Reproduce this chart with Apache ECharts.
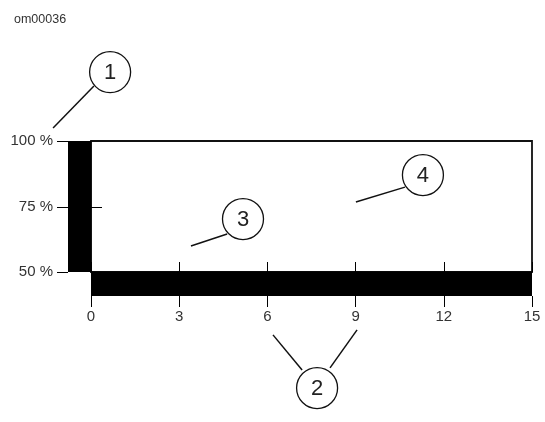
<!DOCTYPE html>
<html>
<head>
<meta charset="utf-8">
<script src="https://cdn.jsdelivr.net/npm/echarts@6/dist/echarts.min.js"></script>
<style>
    html, body { margin: 0; padding: 0; background: #fff; }
    #chart { width: 545px; height: 422px; }
</style>
</head>
<body>
<div id="chart"></div>
<script>
// axis ranges and ticks
var xMin = 0, xMax = 15, xStep = 3;
var yMin = 50, yMax = 100, yStep = 25;
var yTicks = [50, 75, 100];
var yInnerTicks = [75];

// callouts: number, circle centre, leader lines [from, to] (data units)
var calloutLabels = ['1', '2', '3', '4'];
var calloutCenters = [[0.65, 126.3], [7.69, 5.7], [5.17, 70.2], [11.29, 87.0]];
var calloutLeaders = [
    [[[0.10, 121.0], [-1.29, 105.0]]],
    [[[7.18, 12.6], [6.19, 26.0]], [[8.13, 13.4], [9.05, 27.9]]],
    [[[4.63, 64.5], [3.40, 59.9]]],
    [[[10.68, 82.4], [9.01, 76.7]]]
];

var labelStyle = { color: '#333', fontSize: 15, fontFamily: 'Liberation Sans, Arial, sans-serif' };
var barW = 23, barH = 24, tickLen = 11;

// 黑色边条、刻度
function renderFrame(params, api) {
    var p0 = api.coord([xMin, yMin]);
    var p1 = api.coord([xMax, yMax]);
    var children = [
        { type: 'rect', shape: { x: p0[0] - barW, y: p1[1], width: barW + 0.5, height: p0[1] - p1[1] }, style: { fill: '#000' } },
        { type: 'rect', shape: { x: p0[0], y: p0[1] - 0.5, width: p1[0] - p0[0], height: barH + 0.5 }, style: { fill: '#000' } }
    ];
    yTicks.forEach(function (v) {
        var p = api.coord([xMin, v]);
        var y = Math.round(p[1]) + 0.5;
        children.push({ type: 'line', shape: { x1: p[0] - barW - tickLen, y1: y, x2: p[0] - barW, y2: y }, style: { stroke: '#000', lineWidth: 1 } });
    });
    yInnerTicks.forEach(function (v) {
        var p = api.coord([xMin, v]);
        var y = Math.round(p[1]) + 0.5;
        children.push({ type: 'line', shape: { x1: p[0], y1: y, x2: p[0] + tickLen, y2: y }, style: { stroke: '#000', lineWidth: 1 } });
    });
    return { type: 'group', children: children };
}

// 编号圆圈和引线
function renderCallout(params, api) {
    var i = params.dataIndex;
    var c = api.coord(calloutCenters[i]);
    var children = [];
    calloutLeaders[i].forEach(function (seg) {
        var a = api.coord(seg[0]);
        var b = api.coord(seg[1]);
        children.push({ type: 'line', shape: { x1: a[0], y1: a[1], x2: b[0], y2: b[1] }, style: { stroke: '#111', lineWidth: 1.5 } });
    });
    children.push({
        type: 'circle',
        shape: { cx: c[0], cy: c[1], r: 20.5 },
        style: { fill: '#fff', stroke: '#111', lineWidth: 1.3 }
    });
    children.push({
        type: 'text',
        x: c[0], y: c[1] + 1,
        style: { text: calloutLabels[i], fill: '#222', fontSize: 22, fontFamily: 'Liberation Sans, Arial, sans-serif', align: 'center', verticalAlign: 'middle' }
    });
    return { type: 'group', children: children };
}

var option = {
    animation: false,
    backgroundColor: '#fff',
    title: {
        text: 'om00036',
        left: 9,
        top: 8,
        textStyle: { color: '#333', fontSize: 12.5, fontWeight: 'normal', fontFamily: 'Liberation Sans, Arial, sans-serif' }
    },
    grid: {
        left: 91, right: 13, top: 141, bottom: 150,
        show: true,
        borderColor: '#111',
        borderWidth: 1.8,
        backgroundColor: 'transparent'
    },
    xAxis: [{
        type: 'value',
        position: 'bottom',
        min: xMin, max: xMax, interval: xStep,
        offset: 24,
        axisLine: { show: false },
        axisTick: { show: true, length: 11, lineStyle: { color: '#000', width: 1 } },
        axisLabel: Object.assign({ margin: 13 }, labelStyle),
        splitLine: { show: false }
    }, {
        type: 'value',
        position: 'bottom',
        min: xMin, max: xMax, interval: xStep,
        offset: 0,
        axisLine: { show: false },
        axisTick: { show: true, inside: true, length: 10, lineStyle: { color: '#000', width: 1 } },
        axisLabel: { show: false },
        splitLine: { show: false }
    }],
    yAxis: {
        type: 'value',
        position: 'left',
        min: yMin, max: yMax, interval: yStep,
        offset: 23,
        axisLine: { show: false },
        axisTick: { show: false },
        axisLabel: Object.assign({ margin: 15, formatter: '{value} %' }, labelStyle),
        splitLine: { show: false }
    },
    series: [{
        type: 'custom',
        xAxisIndex: 0,
        clip: false,
        silent: true,
        renderItem: renderFrame,
        data: [[0, 0]],
        z: 1
    }, {
        type: 'custom',
        xAxisIndex: 0,
        clip: false,
        silent: true,
        renderItem: renderCallout,
        data: calloutCenters,
        z: 3
    }]
};

var myChart = echarts.init(document.getElementById('chart'));
myChart.setOption(option);
</script>
</body>
</html>
